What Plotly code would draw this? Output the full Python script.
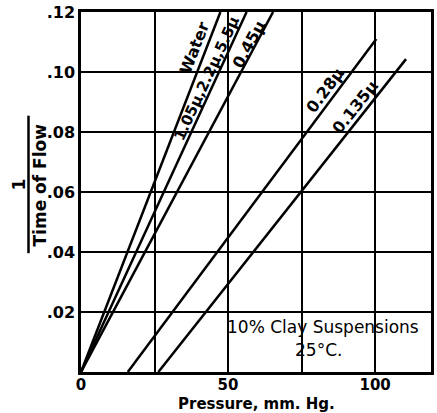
import plotly.graph_objects as go

# Data
water_p = [0, 47.4]
water_v = [0, 0.12]
s105_p = [0, 56.3]
s105_v = [0, 0.12]
s045_p = [0, 65.3]
s045_v = [0, 0.12]
s028_p = [15.9, 100.4]
s028_v = [0, 0.111]
s0135_p = [26.3, 110.5]
s0135_v = [0, 0.1043]

x_tickvals = [0, 25, 50, 75, 100]
x_ticktext = ["0", "", "50", "", "100"]
y_tickvals = [0, 0.02, 0.04, 0.06, 0.08, 0.10, 0.12]
y_ticktext = ["", ".02", ".04", ".06", ".08", ".10", ".12"]

series = [
    (water_p, water_v),
    (s105_p, s105_v),
    (s045_p, s045_v),
    (s028_p, s028_v),
    (s0135_p, s0135_v),
]

labels = [
    ("Water", 38.4, 0.108, -68.7, 16),
    ("1.05\u03bc,2.2\u03bc,5.5\u03bc", 42.8, 0.098, -65.2, 15),
    ("0.45\u03bc", 57.0, 0.1093, -61.8, 16),
    ("0.28\u03bc", 83.0, 0.0937, -53.2, 16),
    ("0.135\u03bc", 93.4, 0.0884, -51.5, 16),
]

FONT = "DejaVu Sans"

fig = go.Figure()
for p, v in series:
    fig.add_trace(go.Scatter(x=p, y=v, mode="lines",
                             line=dict(color="black", width=2.5),
                             showlegend=False, hoverinfo="skip"))

for text, x, y, ang, sz in labels:
    fig.add_annotation(x=x, y=y, xref="x", yref="y", text=text, showarrow=False,
                       textangle=ang,
                       font=dict(family=FONT, size=sz, color="black", weight="bold"))

fig.add_annotation(x=82.3, y=0.0150, xref="x", yref="y", text="10% Clay Suspensions",
                   showarrow=False, font=dict(family=FONT, size=17, color="black"))
fig.add_annotation(x=80.6, y=0.0073, xref="x", yref="y", text="25\u00b0C.",
                   showarrow=False, font=dict(family=FONT, size=17, color="black"))

# y-axis title as a fraction 1 / Time of Flow
fig.add_annotation(x=-0.178, y=0.52, xref="paper", yref="paper", text="1",
                   xanchor="center", yanchor="middle",
                   showarrow=False, textangle=-90,
                   font=dict(family=FONT, size=17, color="black", weight="bold"))
fig.add_annotation(x=-0.118, y=0.52, xref="paper", yref="paper", text="Time of Flow",
                   xanchor="center", yanchor="middle",
                   showarrow=False, textangle=-90,
                   font=dict(family=FONT, size=17, color="black", weight="bold"))
fig.add_shape(type="line", xref="paper", yref="paper", x0=-0.150, x1=-0.150,
              y0=0.330, y1=0.712, line=dict(color="black", width=2.5))

# x-axis title
fig.add_annotation(x=0.5, y=-0.090, xref="paper", yref="paper", text="Pressure, mm. Hg.",
                   xanchor="center", yanchor="middle", showarrow=False,
                   font=dict(family=FONT, size=15, color="black", weight="bold"))

fig.update_xaxes(range=[0, 119], tickvals=x_tickvals, ticktext=x_ticktext,
                 showgrid=True, gridcolor="black", gridwidth=1.5,
                 showline=True, linecolor="black", linewidth=2.5, mirror=True,
                 zeroline=False, ticks="", ticklabelstandoff=-3,
                 tickfont=dict(family=FONT, size=15, color="black", weight="bold"))
fig.update_yaxes(range=[0, 0.12], tickvals=y_tickvals, ticktext=y_ticktext,
                 showgrid=True, gridcolor="black", gridwidth=1.5,
                 showline=True, linecolor="black", linewidth=2.5, mirror=True,
                 zeroline=False, ticks="",
                 tickfont=dict(family=FONT, size=16, color="black", weight="bold"))

fig.update_layout(width=437, height=413, plot_bgcolor="white", paper_bgcolor="white",
                  margin=dict(l=81, r=3, t=11, b=41))

fig.write_html("out.html", config={"displayModeBar": False},
               post_script="document.body.style.margin='0';document.body.style.overflow='hidden';")
